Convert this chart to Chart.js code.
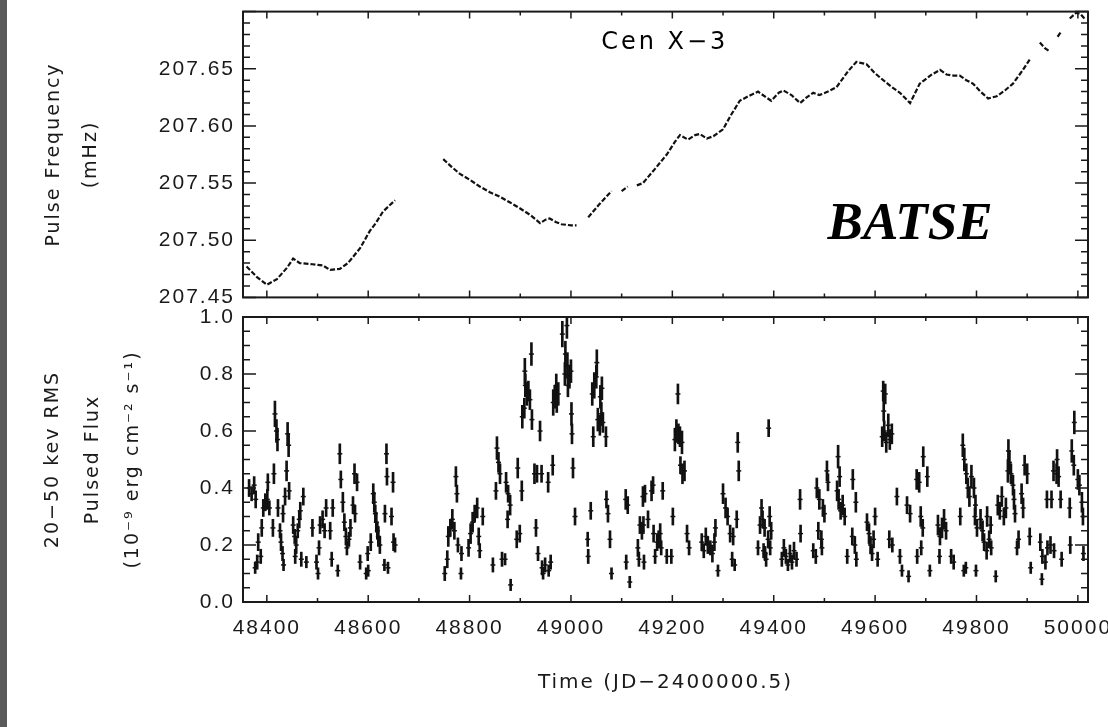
<!DOCTYPE html>
<html>
<head>
<meta charset="utf-8">
<script src="https://cdn.jsdelivr.net/npm/chart.js@4.4.0/dist/chart.umd.min.js"></script>
<style>
  html, body { margin: 0; padding: 0; background: #fff; overflow: hidden; width: 1108px; height: 727px; }
  #edge { position: absolute; left: 0; top: 0; width: 7px; height: 727px; background: #5a5a5a; z-index: 3; }
  #fluxBox { position: absolute; left: 0; top: 0; }
  #freqBox { position: absolute; left: 0; top: -9px; }
</style>
</head>
<body>
<div id="edge"></div>
<div id="fluxBox"><canvas id="fluxChart" width="1140" height="727"></canvas></div>
<div id="freqBox"><canvas id="freqChart" width="1108" height="327"></canvas></div>
<script>
// pulse frequency (mHz) vs time (JD-2400000.5), null = gap in coverage
const freqDays = [
  48360, 48380, 48400, 48420, 48440, 48452, 48465, 48490, 48510, 48525,
  48544, 48560, 48584, 48603, 48615, 48629, 48653, 48700, 48748, 48765,
  48781, 48800, 48820, 48840, 48860, 48880, 48899, 48920, 48939, 48950,
  48958, 48970, 48981, 49000, 49011, 49022, 49034, 49055, 49080, 49090,
  49100, 49112, 49121, 49130, 49142, 49165, 49189, 49205, 49215, 49231,
  49245, 49254, 49268, 49281, 49300, 49315, 49333, 49350, 49369, 49385,
  49395, 49410, 49419, 49435, 49452, 49465, 49478, 49490, 49507, 49524,
  49547, 49563, 49583, 49600, 49616, 49633, 49649, 49669, 49688, 49700,
  49712, 49728, 49741, 49755, 49767, 49780, 49793, 49808, 49823, 49840,
  49856, 49872, 49890, 49905, 49915, 49925, 49935, 49945, 49953, 49960,
  49968, 49976, 49984, 49997, 50005, 50013
];
const freqValues = [
  207.477, 207.468, 207.461, 207.466, 207.476, 207.484, 207.480, 207.479, 207.478, 207.474,
  207.475, 207.480, 207.493, 207.508, 207.515, 207.525, 207.535, null, 207.571, 207.564,
  207.558, 207.553, 207.547, 207.542, 207.538, 207.533, 207.528, 207.522, 207.515, 207.518,
  207.519, 207.516, 207.514, 207.513, 207.513, null, 207.520, 207.531, 207.543, null,
  207.543, 207.547, null, 207.548, 207.550, 207.562, 207.575, 207.586, 207.592, 207.588,
  207.592, 207.593, 207.589, 207.591, 207.597, 207.609, 207.622, 207.626, 207.630, 207.625,
  207.622, 207.629, 207.631, 207.627, 207.620, 207.625, 207.629, 207.627, 207.630, 207.634,
  207.648, 207.656, 207.654, 207.646, 207.640, 207.634, 207.629, 207.620, 207.637, 207.641,
  207.645, 207.649, 207.645, 207.644, 207.644, 207.640, 207.637, 207.630, 207.624, 207.626,
  207.631, 207.637, 207.648, 207.658, null, 207.673, 207.668, 207.665, null, 207.678,
  207.683, null, 207.694, 207.699, 207.698, 207.694
];

// 20-50 keV pulsed flux, with 1-sigma errors
const fluxDays = [
  48365, 48370, 48375, 48377, 48378, 48381, 48383, 48388, 48390, 48393,
  48397, 48401, 48402, 48405, 48412, 48414, 48416, 48419, 48421, 48422,
  48426, 48428, 48431, 48432, 48433, 48436, 48439, 48441, 48443, 48444,
  48452, 48455, 48456, 48458, 48461, 48464, 48466, 48468, 48472, 48478,
  48490, 48498, 48501, 48503, 48505, 48510, 48514, 48517, 48525, 48528,
  48530, 48540, 48544, 48546, 48550, 48553, 48556, 48558, 48562, 48565,
  48570, 48573, 48574, 48578, 48584, 48596, 48599, 48600, 48605, 48610,
  48612, 48614, 48616, 48618, 48620, 48623, 48632, 48633, 48636, 48637,
  48639, 48646, 48649, 48650, 48653, 48751, 48756, 48758, 48762, 48766,
  48770, 48773, 48775, 48777, 48783, 48784, 48798, 48802, 48806, 48810,
  48815, 48818, 48820, 48826, 48846, 48852, 48854, 48857, 48860, 48864,
  48870, 48872, 48875, 48876, 48880, 48881, 48893, 48895, 48899, 48903,
  48904, 48908, 48909, 48910, 48913, 48916, 48919, 48922, 48923, 48928,
  48931, 48933, 48935, 48939, 48942, 48943, 48945, 48949, 48955, 48956,
  48960, 48964, 48965, 48968, 48971, 48972, 48975, 48983, 48988, 48989,
  48992, 48993, 48994, 48997, 49000, 49001, 49002, 49004, 49008, 49033,
  49034, 49039, 49042, 49044, 49046, 49050, 49051, 49053, 49057, 49058,
  49060, 49061, 49063, 49069, 49070, 49073, 49077, 49080, 49108, 49109,
  49112, 49116, 49132, 49134, 49136, 49140, 49142, 49143, 49144, 49146,
  49152, 49159, 49162, 49163, 49166, 49170, 49173, 49176, 49178, 49181,
  49189, 49198, 49201, 49205, 49208, 49211, 49212, 49215, 49216, 49219,
  49220, 49224, 49229, 49233, 49258, 49262, 49266, 49270, 49275, 49279,
  49283, 49285, 49290, 49300, 49305, 49309, 49314, 49318, 49320, 49323,
  49327, 49329, 49331, 49369, 49373, 49376, 49378, 49380, 49382, 49383,
  49385, 49389, 49390, 49392, 49393, 49395, 49416, 49420, 49424, 49428,
  49432, 49436, 49440, 49445, 49452, 49453, 49478, 49483, 49485, 49488,
  49490, 49494, 49495, 49497, 49500, 49505, 49507, 49525, 49527, 49528,
  49530, 49532, 49536, 49540, 49545, 49555, 49556, 49560, 49562, 49563,
  49584, 49588, 49591, 49594, 49597, 49600, 49605, 49614, 49616, 49617,
  49618, 49620, 49622, 49626, 49628, 49629, 49633, 49634, 49643, 49649,
  49653, 49663, 49666, 49669, 49682, 49683, 49687, 49690, 49691, 49694,
  49695, 49703, 49708, 49724, 49727, 49728, 49732, 49736, 49740, 49750,
  49755, 49768, 49773, 49775, 49776, 49779, 49780, 49783, 49786, 49790,
  49795, 49797, 49798, 49799, 49801, 49808, 49812, 49815, 49820, 49821,
  49825, 49828, 49829, 49838, 49842, 49846, 49850, 49854, 49858, 49862,
  49863, 49865, 49868, 49872, 49874, 49876, 49880, 49883, 49889, 49892,
  49895, 49900, 49905, 49907, 49926, 49929, 49930, 49936, 49939, 49940,
  49946, 49948, 49952, 49953, 49958, 49959, 49962, 49966, 49968, 49984,
  49985, 49988, 49992, 49993, 50000, 50003, 50008, 50010, 50011
];
const fluxValues = [
  0.40, 0.38, 0.41, 0.12, 0.36, 0.14, 0.21, 0.16, 0.26, 0.33,
  0.35, 0.36, 0.42, 0.33, 0.26, 0.45, 0.66, 0.60, 0.57, 0.33,
  0.25, 0.21, 0.17, 0.31, 0.13, 0.37, 0.46, 0.59, 0.55, 0.39,
  0.27, 0.23, 0.16, 0.20, 0.25, 0.29, 0.32, 0.15, 0.37, 0.14,
  0.26, 0.14, 0.10, 0.19, 0.27, 0.29, 0.25, 0.33, 0.25, 0.15,
  0.33, 0.11, 0.52, 0.43, 0.35, 0.28, 0.23, 0.19, 0.22, 0.26,
  0.34, 0.45, 0.31, 0.42, 0.14, 0.10, 0.17, 0.11, 0.21, 0.38,
  0.35, 0.31, 0.28, 0.25, 0.23, 0.20, 0.13, 0.31, 0.52, 0.44,
  0.12, 0.30, 0.42, 0.21, 0.20, 0.10, 0.15, 0.23, 0.26, 0.29,
  0.25, 0.44, 0.38, 0.20, 0.10, 0.17, 0.19, 0.24, 0.28, 0.31,
  0.33, 0.23, 0.18, 0.30, 0.13, 0.39, 0.54, 0.49, 0.45, 0.15,
  0.15, 0.42, 0.29, 0.38, 0.34, 0.06, 0.22, 0.47, 0.24, 0.39,
  0.65, 0.68, 0.81, 0.76, 0.73, 0.74, 0.71, 0.87, 0.64, 0.45,
  0.26, 0.45, 0.17, 0.60, 0.45, 0.12, 0.10, 0.13, 0.42, 0.11,
  0.14, 0.48, 0.70, 0.72, 0.76, 0.70, 0.73, 0.94, 0.80, 0.87,
  0.97, 0.83, 0.76, 0.79, 0.81, 0.66, 0.59, 0.47, 0.30, 0.22,
  0.16, 0.32, 0.73, 0.58, 0.76, 0.79, 0.84, 0.64, 0.62, 0.72,
  0.66, 0.75, 0.63, 0.58, 0.36, 0.31, 0.22, 0.10, 0.36, 0.14,
  0.34, 0.07, 0.19, 0.15, 0.27, 0.25, 0.37, 0.27, 0.14, 0.38,
  0.29, 0.39, 0.41, 0.24, 0.16, 0.21, 0.22, 0.24, 0.19, 0.39,
  0.16, 0.16, 0.30, 0.57, 0.60, 0.73, 0.59, 0.58, 0.48, 0.56,
  0.45, 0.46, 0.24, 0.19, 0.21, 0.18, 0.23, 0.20, 0.19, 0.17,
  0.21, 0.26, 0.11, 0.38, 0.33, 0.30, 0.24, 0.15, 0.23, 0.13,
  0.29, 0.56, 0.46, 0.19, 0.27, 0.33, 0.29, 0.18, 0.26, 0.17,
  0.15, 0.22, 0.61, 0.30, 0.19, 0.25, 0.15, 0.19, 0.16, 0.13,
  0.17, 0.14, 0.18, 0.15, 0.36, 0.24, 0.18, 0.16, 0.40, 0.25,
  0.36, 0.22, 0.19, 0.33, 0.31, 0.46, 0.42, 0.39, 0.51, 0.36,
  0.44, 0.32, 0.34, 0.30, 0.16, 0.23, 0.43, 0.20, 0.35, 0.15,
  0.28, 0.24, 0.20, 0.17, 0.22, 0.30, 0.15, 0.58, 0.74, 0.67,
  0.60, 0.73, 0.56, 0.62, 0.22, 0.57, 0.59, 0.20, 0.37, 0.16,
  0.11, 0.34, 0.09, 0.31, 0.43, 0.16, 0.42, 0.30, 0.19, 0.26,
  0.51, 0.44, 0.11, 0.27, 0.16, 0.23, 0.26, 0.29, 0.25, 0.16,
  0.14, 0.30, 0.55, 0.11, 0.50, 0.12, 0.45, 0.40, 0.37, 0.44,
  0.40, 0.30, 0.34, 0.11, 0.26, 0.29, 0.25, 0.21, 0.18, 0.30,
  0.22, 0.27, 0.19, 0.09, 0.34, 0.32, 0.37, 0.30, 0.33, 0.46,
  0.53, 0.49, 0.45, 0.41, 0.36, 0.31, 0.19, 0.22, 0.38, 0.33,
  0.48, 0.45, 0.23, 0.12, 0.21, 0.08, 0.16, 0.14, 0.36, 0.19,
  0.20, 0.36, 0.46, 0.18, 0.45, 0.50, 0.44, 0.36, 0.15, 0.33,
  0.20, 0.53, 0.48, 0.63, 0.43, 0.41, 0.35, 0.30, 0.17
];
const fluxErrors = [
  0.030, 0.025, 0.030, 0.020, 0.030, 0.025, 0.030, 0.025, 0.030, 0.030,
  0.030, 0.035, 0.030, 0.025, 0.030, 0.035, 0.045, 0.040, 0.040, 0.030,
  0.025, 0.030, 0.025, 0.030, 0.020, 0.030, 0.035, 0.040, 0.040, 0.030,
  0.030, 0.025, 0.025, 0.030, 0.025, 0.030, 0.030, 0.025, 0.030, 0.020,
  0.030, 0.025, 0.020, 0.025, 0.030, 0.030, 0.025, 0.030, 0.030, 0.025,
  0.030, 0.020, 0.035, 0.030, 0.035, 0.030, 0.030, 0.025, 0.025, 0.030,
  0.030, 0.035, 0.030, 0.030, 0.025, 0.020, 0.025, 0.020, 0.030, 0.035,
  0.035, 0.030, 0.035, 0.030, 0.035, 0.030, 0.020, 0.030, 0.035, 0.030,
  0.020, 0.030, 0.035, 0.030, 0.025, 0.025, 0.030, 0.035, 0.030, 0.035,
  0.030, 0.035, 0.030, 0.025, 0.020, 0.025, 0.030, 0.035, 0.035, 0.030,
  0.035, 0.030, 0.025, 0.030, 0.025, 0.030, 0.040, 0.035, 0.035, 0.025,
  0.020, 0.035, 0.030, 0.030, 0.035, 0.020, 0.030, 0.035, 0.030, 0.035,
  0.040, 0.035, 0.045, 0.040, 0.040, 0.035, 0.035, 0.040, 0.035, 0.035,
  0.030, 0.030, 0.025, 0.035, 0.030, 0.025, 0.020, 0.025, 0.035, 0.020,
  0.025, 0.035, 0.045, 0.040, 0.040, 0.035, 0.040, 0.045, 0.040, 0.045,
  0.045, 0.045, 0.040, 0.040, 0.040, 0.040, 0.035, 0.035, 0.030, 0.025,
  0.025, 0.030, 0.040, 0.035, 0.045, 0.040, 0.045, 0.040, 0.035, 0.040,
  0.040, 0.040, 0.035, 0.035, 0.030, 0.030, 0.030, 0.020, 0.035, 0.025,
  0.030, 0.020, 0.030, 0.025, 0.030, 0.030, 0.035, 0.030, 0.025, 0.030,
  0.030, 0.035, 0.030, 0.030, 0.025, 0.030, 0.030, 0.035, 0.025, 0.030,
  0.025, 0.025, 0.030, 0.040, 0.040, 0.035, 0.035, 0.035, 0.030, 0.040,
  0.035, 0.035, 0.030, 0.025, 0.030, 0.025, 0.030, 0.030, 0.025, 0.030,
  0.030, 0.030, 0.020, 0.035, 0.035, 0.030, 0.030, 0.025, 0.030, 0.020,
  0.030, 0.035, 0.035, 0.025, 0.030, 0.030, 0.030, 0.025, 0.030, 0.025,
  0.025, 0.030, 0.030, 0.035, 0.025, 0.030, 0.025, 0.030, 0.025, 0.020,
  0.030, 0.025, 0.030, 0.025, 0.035, 0.030, 0.025, 0.025, 0.035, 0.030,
  0.035, 0.030, 0.025, 0.030, 0.030, 0.035, 0.030, 0.035, 0.040, 0.035,
  0.035, 0.030, 0.035, 0.030, 0.025, 0.030, 0.035, 0.030, 0.035, 0.025,
  0.030, 0.035, 0.030, 0.025, 0.030, 0.030, 0.025, 0.035, 0.035, 0.035,
  0.035, 0.035, 0.035, 0.040, 0.030, 0.035, 0.035, 0.025, 0.030, 0.025,
  0.020, 0.030, 0.020, 0.030, 0.035, 0.025, 0.035, 0.035, 0.025, 0.030,
  0.035, 0.035, 0.020, 0.035, 0.025, 0.030, 0.035, 0.035, 0.030, 0.025,
  0.025, 0.030, 0.040, 0.020, 0.040, 0.020, 0.035, 0.035, 0.035, 0.040,
  0.035, 0.030, 0.035, 0.020, 0.030, 0.035, 0.035, 0.030, 0.030, 0.035,
  0.030, 0.030, 0.025, 0.020, 0.035, 0.030, 0.035, 0.030, 0.035, 0.040,
  0.040, 0.040, 0.035, 0.035, 0.035, 0.030, 0.025, 0.030, 0.035, 0.035,
  0.035, 0.035, 0.030, 0.020, 0.030, 0.020, 0.025, 0.025, 0.030, 0.025,
  0.030, 0.030, 0.035, 0.025, 0.035, 0.035, 0.035, 0.030, 0.025, 0.035,
  0.030, 0.040, 0.035, 0.040, 0.035, 0.035, 0.035, 0.030, 0.025
];

const dayMin = 48353, dayMax = 50020;
const ink = '#1a1a1a';

// IDL-like wide lettering
const spacing = {
  id: 'spacing',
  beforeLayout(chart) { chart.ctx.letterSpacing = '2px'; },
  beforeDraw(chart) { chart.ctx.letterSpacing = '2px'; }
};

// box frame with inward ticks on all four sides
const frameTicks = {
  id: 'frameTicks',
  afterDraw(chart, args, opts) {
    const {ctx, chartArea: a, scales: {x, y}} = chart;
    const major = (n, minor, maj) => {
      const r = n * minor / maj;
      return Math.abs(r - Math.round(r)) < 1e-6;
    };
    ctx.save();
    ctx.strokeStyle = ink;
    ctx.lineWidth = 1.5;
    ctx.beginPath();
    for (let n = Math.ceil(x.min / opts.xMinor - 1e-9); n * opts.xMinor <= x.max + 1e-9; n++) {
      const px = x.getPixelForValue(n * opts.xMinor);
      const len = major(n, opts.xMinor, opts.xMajor) ? 7 : 4;
      ctx.moveTo(px, a.bottom); ctx.lineTo(px, a.bottom - len);
      ctx.moveTo(px, a.top); ctx.lineTo(px, a.top + len);
    }
    for (let n = Math.ceil(y.min / opts.yMinor - 1e-9); n * opts.yMinor <= y.max + 1e-9; n++) {
      const py = y.getPixelForValue(n * opts.yMinor);
      const len = major(n, opts.yMinor, opts.yMajor) ? 13 : 7;
      ctx.moveTo(a.left, py); ctx.lineTo(a.left + len, py);
      ctx.moveTo(a.right, py); ctx.lineTo(a.right - len, py);
    }
    ctx.stroke();
    ctx.lineWidth = 2;
    ctx.strokeRect(a.left, a.top, a.right - a.left, a.bottom - a.top);
    ctx.restore();
  }
};

const freqNotes = [
  {text: 'Cen X\u22123', x: 49185, y: 207.673, font: '24px "DejaVu Sans"', gap: '3px'},
  {text: 'BATSE', x: 49669, y: 207.513, font: 'italic bold 53px "Liberation Serif"', gap: '0px'}
];
const notes = {
  id: 'notes',
  afterDraw(chart) {
    const {ctx, scales: {x, y}} = chart;
    ctx.save();
    ctx.fillStyle = '#000';
    ctx.textAlign = 'center';
    ctx.textBaseline = 'middle';
    freqNotes.forEach(n => {
      ctx.font = n.font;
      ctx.letterSpacing = n.gap;
      ctx.fillText(n.text, x.getPixelForValue(n.x), y.getPixelForValue(n.y));
    });
    ctx.restore();
  }
};

const tickFont = {family: '"Liberation Sans", Arial, sans-serif', size: 21};

new Chart(document.getElementById('freqChart'), {
  type: 'line',
  data: {
    datasets: [{
      data: freqDays.map((t, i) => ({x: t, y: freqValues[i]})),
      borderColor: '#111',
      borderWidth: 2.2,
      borderDash: [5, 2],
      pointRadius: 0,
      spanGaps: false,
      tension: 0
    }]
  },
  options: {
    responsive: false,
    animation: false,
    events: [],
    layout: {padding: {top: 0, right: 20, bottom: 0, left: 0}},
    scales: {
      x: {type: 'linear', display: false, min: dayMin, max: dayMax},
      y: {
        min: 207.45, max: 207.70,
        afterFit(s) { s.width = 243; },
        grid: {display: false, drawTicks: false},
        border: {display: false},
        ticks: {
          stepSize: 0.05, padding: 8, color: ink, font: tickFont,
          callback: v => v > 207.695 ? '' : v.toFixed(2)
        },
        title: {
          display: true, text: ['Pulse Frequency', '(mHz)'], color: ink,
          font: {family: '"DejaVu Sans"', size: 19, lineHeight: '37px'},
          padding: {top: 36, bottom: 0}
        }
      }
    },
    plugins: {
      legend: {display: false},
      tooltip: {enabled: false},
      frameTicks: {xMajor: 200, xMinor: 100, yMajor: 0.05, yMinor: 0.01}
    }
  },
  plugins: [spacing, frameTicks, notes]
});

new Chart(document.getElementById('fluxChart'), {
  type: 'bar',
  data: {
    datasets: [{
      type: 'bar',
      data: fluxDays.map((t, i) => ({x: t, y: [fluxValues[i] - fluxErrors[i], fluxValues[i] + fluxErrors[i]]})),
      backgroundColor: '#111',
      borderWidth: 0,
      barThickness: 2,
      grouped: false
    }, {
      type: 'scatter',
      data: fluxDays.map((t, i) => ({x: t, y: fluxValues[i]})),
      pointStyle: 'line',
      pointRadius: 2.5,
      pointBorderWidth: 1.5,
      pointBorderColor: '#111',
      borderColor: '#111'
    }]
  },
  options: {
    responsive: false,
    animation: false,
    events: [],
    layout: {padding: {top: 317, right: 52, bottom: 0, left: 0}},
    scales: {
      x: {
        type: 'linear', min: dayMin, max: dayMax, offset: false,
        afterFit(s) { s.height = 125; },
        grid: {display: false, drawTicks: false},
        border: {display: false},
        ticks: {stepSize: 200, includeBounds: false, padding: 14, color: ink, font: tickFont, maxRotation: 0,
          callback: v => String(v)},
        title: {
          display: true, text: 'Time (JD\u22122400000.5)', color: ink,
          font: {family: '"DejaVu Sans"', size: 20},
          padding: {top: 0, bottom: 32}
        }
      },
      y: {
        min: 0, max: 1,
        afterFit(s) { s.width = 243; },
        grid: {display: false, drawTicks: false},
        border: {display: false},
        ticks: {stepSize: 0.2, padding: 8, color: ink, font: tickFont, callback: v => v.toFixed(1)},
        title: {
          display: true,
          text: ['20\u221250 kev RMS', 'Pulsed Flux', '(10\u207B\u2079 erg cm\u207B\u00B2 s\u207B\u00B9)'],
          color: ink,
          font: {family: '"DejaVu Sans"', size: 19, lineHeight: '40px'},
          padding: {top: 33, bottom: 0}
        }
      }
    },
    plugins: {
      legend: {display: false},
      tooltip: {enabled: false},
      frameTicks: {xMajor: 200, xMinor: 100, yMajor: 0.2, yMinor: 0.05}
    }
  },
  plugins: [spacing, frameTicks]
});
</script>
</body>
</html>
